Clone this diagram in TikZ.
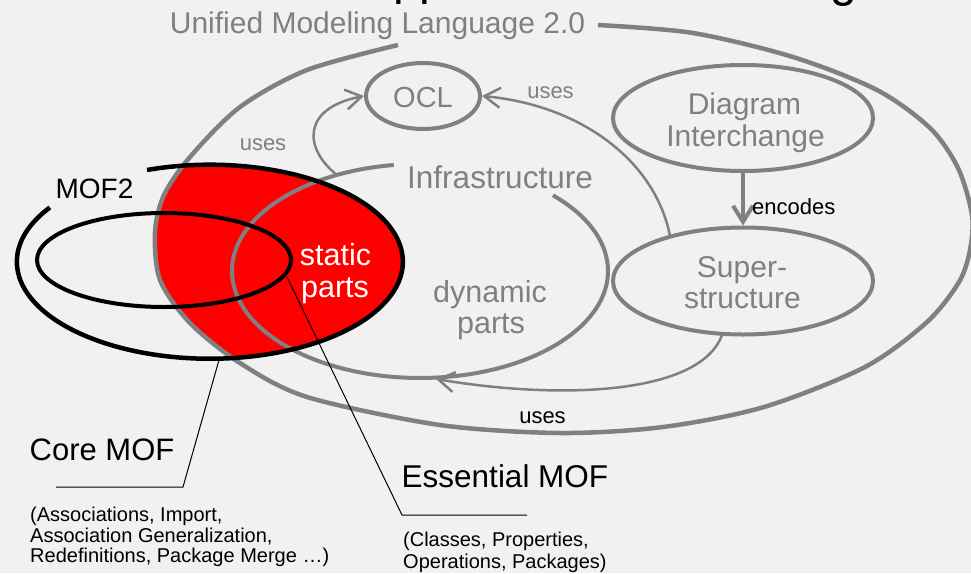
\documentclass[tikz,border=0pt]{standalone}
\usepackage{fontspec}
\setmainfont{Liberation Sans}
\usetikzlibrary{arrows.meta,shapes.geometric}
\definecolor{umlgrey}{RGB}{128,128,128}
\definecolor{paper}{RGB}{241,241,241}
\definecolor{mofred}{RGB}{255,0,0}
\newcommand{\fs}[1]{\fontsize{#1}{#1}\selectfont}

\begin{document}
\begin{tikzpicture}[x=1pt,y=-1pt,
  greytext/.style={text=umlgrey,inner sep=0pt},
  blacktext/.style={text=black,inner sep=0pt},
  bubble/.style={ellipse,draw=umlgrey,line width=4pt,inner sep=0pt},
  ringline/.style={draw=umlgrey,line width=4.5pt},
  mofline/.style={draw=black,line width=4.5pt},
  thinflow/.style={draw=umlgrey,line width=2.5pt,-{Straight Barb[length=16pt,width=20pt]}},
  thickflow/.style={draw=umlgrey,line width=4pt,-{Straight Barb[length=16pt,width=20pt]}},
  leader/.style={draw=black,line width=1pt}]

% canvas
\useasboundingbox (0,0) rectangle (971,573);
\fill[paper] (0,0) rectangle (971,573);

% heading, mostly above the page
\node[blacktext,anchor=base west,font=\fs{48}] (headA) at (393,-6) {pp};
\node[blacktext,anchor=base west,font=\fs{48}] (headB) at (830,-4) {g};

% red overlap of MOF2 and UML 2.0
\begin{scope}
  \clip plot[smooth cycle] coordinates {(598,25) (693,33) (793,57) (877,90)
    (930,128) (958,168) (972,215) (970,250) (959,282) (927,322) (865,367)
    (764,407) (663,427) (560,433) (440,425) (307,397) (240,363) (190,323)
    (160,280) (155,232) (164,195) (190,157) (240,107) (307,70) (398,45) (500,28)};
  \fill[mofred] (210,262) ellipse [x radius=193, y radius=97];
\end{scope}

% UML 2.0 boundary, open where its title sits
\draw[ringline] plot[smooth] coordinates {(598,25) (693,33) (793,57) (877,90)
    (930,128) (958,168) (972,215) (970,250) (959,282) (927,322) (865,367)
    (764,407) (663,427) (560,433) (440,425) (307,397) (240,363) (190,323)
    (160,280) (155,232) (164,195) (190,157) (240,107) (307,70) (398,45)};

% Infrastructure boundary, open where its label sits
\draw[ringline,line width=4pt] (393.8,165) arc[start angle=262, end angle=-45, x radius=188, y radius=107];
\coordinate (infraTop) at (337,175);
\coordinate (infraBot) at (436,379);

% leader lines
\coordinate (coreA) at (219,360);
\coordinate (coreB) at (183,487);
\coordinate (coreC) at (56,487);
\coordinate (essA) at (287,277);
\coordinate (essB) at (402,515);
\coordinate (essC) at (527,515);
\draw[leader] (coreA) -- (coreB) -- (coreC);
\draw[leader] (essA) -- (essB) -- (essC);

% MOF2 and Core MOF
\draw[mofline] (147,170) arc[start angle=-109, end angle=214, x radius=193, y radius=97];
\draw[mofline,line width=4pt] (164,260) ellipse [x radius=127, y radius=47];

% packages
\node[bubble,minimum width=114pt,minimum height=66pt] (ocl) at (423,96) {};
\node[bubble,minimum width=260pt,minimum height=106pt] (di) at (743,118) {};
\node[bubble,minimum width=260pt,minimum height=107pt] (ss) at (743,281) {};

% dependencies
\coordinate (ssTop) at (670,236);
\coordinate (ssBot) at (722,335);
\draw[thinflow] (infraTop) .. controls (303,148) and (302,108) .. (ocl.west);
\draw[thinflow] (ssTop) .. controls (655,160) and (580,105) .. (ocl.east);
\draw[thinflow] (ssBot) .. controls (700,395) and (560,400) .. (infraBot);
\draw[thickflow] (di.south) -- (ss.north);

% labels
\node[greytext,anchor=base,font=\fs{30}] (umltitle) at (377.5,33) {Unified Modeling Language 2.0};
\node[greytext,anchor=base,font=\fs{31.5}] (infratext) at (500,188) {Infrastructure};
\node[greytext,anchor=base,font=\fs{29}] (ocltext) at (423,107) {OCL};
\node[greytext,anchor=base,font=\fs{22}] (usesL) at (263,150) {uses};
\node[greytext,anchor=base,font=\fs{22}] (usesR) at (550.5,98) {uses};
\node[greytext,anchor=base,font=\fs{30}] (ditextA) at (744.5,114) {Diagram};
\node[greytext,anchor=base,font=\fs{30}] (ditextB) at (745.5,146) {Interchange};
\node[greytext,anchor=base,font=\fs{30}] (sstextA) at (742,277) {Super-};
\node[greytext,anchor=base,font=\fs{30}] (sstextB) at (742.5,308) {structure};
\node[greytext,anchor=base,font=\fs{30.5}] (dyntextA) at (490,302) {dynamic};
\node[greytext,anchor=base,font=\fs{30.5}] (dyntextB) at (491,333) {parts};
\node[text=white,inner sep=0pt,anchor=base,font=\fs{30.5}] (stattextA) at (335.5,265) {static};
\node[text=white,inner sep=0pt,anchor=base,font=\fs{30.5}] (stattextB) at (335,297) {parts};
\node[blacktext,anchor=base west,font=\fs{22}] (encodes) at (752,214) {encodes};
\node[blacktext,anchor=base,font=\fs{22}] (usesB) at (542.5,423) {uses};
\node[blacktext,anchor=base,font=\fs{28}] (moftwo) at (94.5,198) {MOF2};
\node[blacktext,anchor=base west,font=\fs{31}] (coremof) at (29.5,460) {Core MOF};
\node[blacktext,anchor=base west,font=\fs{31.5}] (essmof) at (401.5,487) {Essential MOF};
\node[blacktext,anchor=base west,font=\fs{20}] (coreA1) at (30,521) {(Associations, Import,};
\node[blacktext,anchor=base west,font=\fs{20}] (coreA2) at (30,542) {Association Generalization,};
\node[blacktext,anchor=base west,font=\fs{20}] (coreA3) at (30,562) {Redefinitions, Package Merge …)};
\node[blacktext,anchor=base west,font=\fs{20}] (essA1) at (403,546) {(Classes, Properties,};
\node[blacktext,anchor=base west,font=\fs{20}] (essA2) at (403,568) {Operations, Packages)};
\end{tikzpicture}
\end{document}
